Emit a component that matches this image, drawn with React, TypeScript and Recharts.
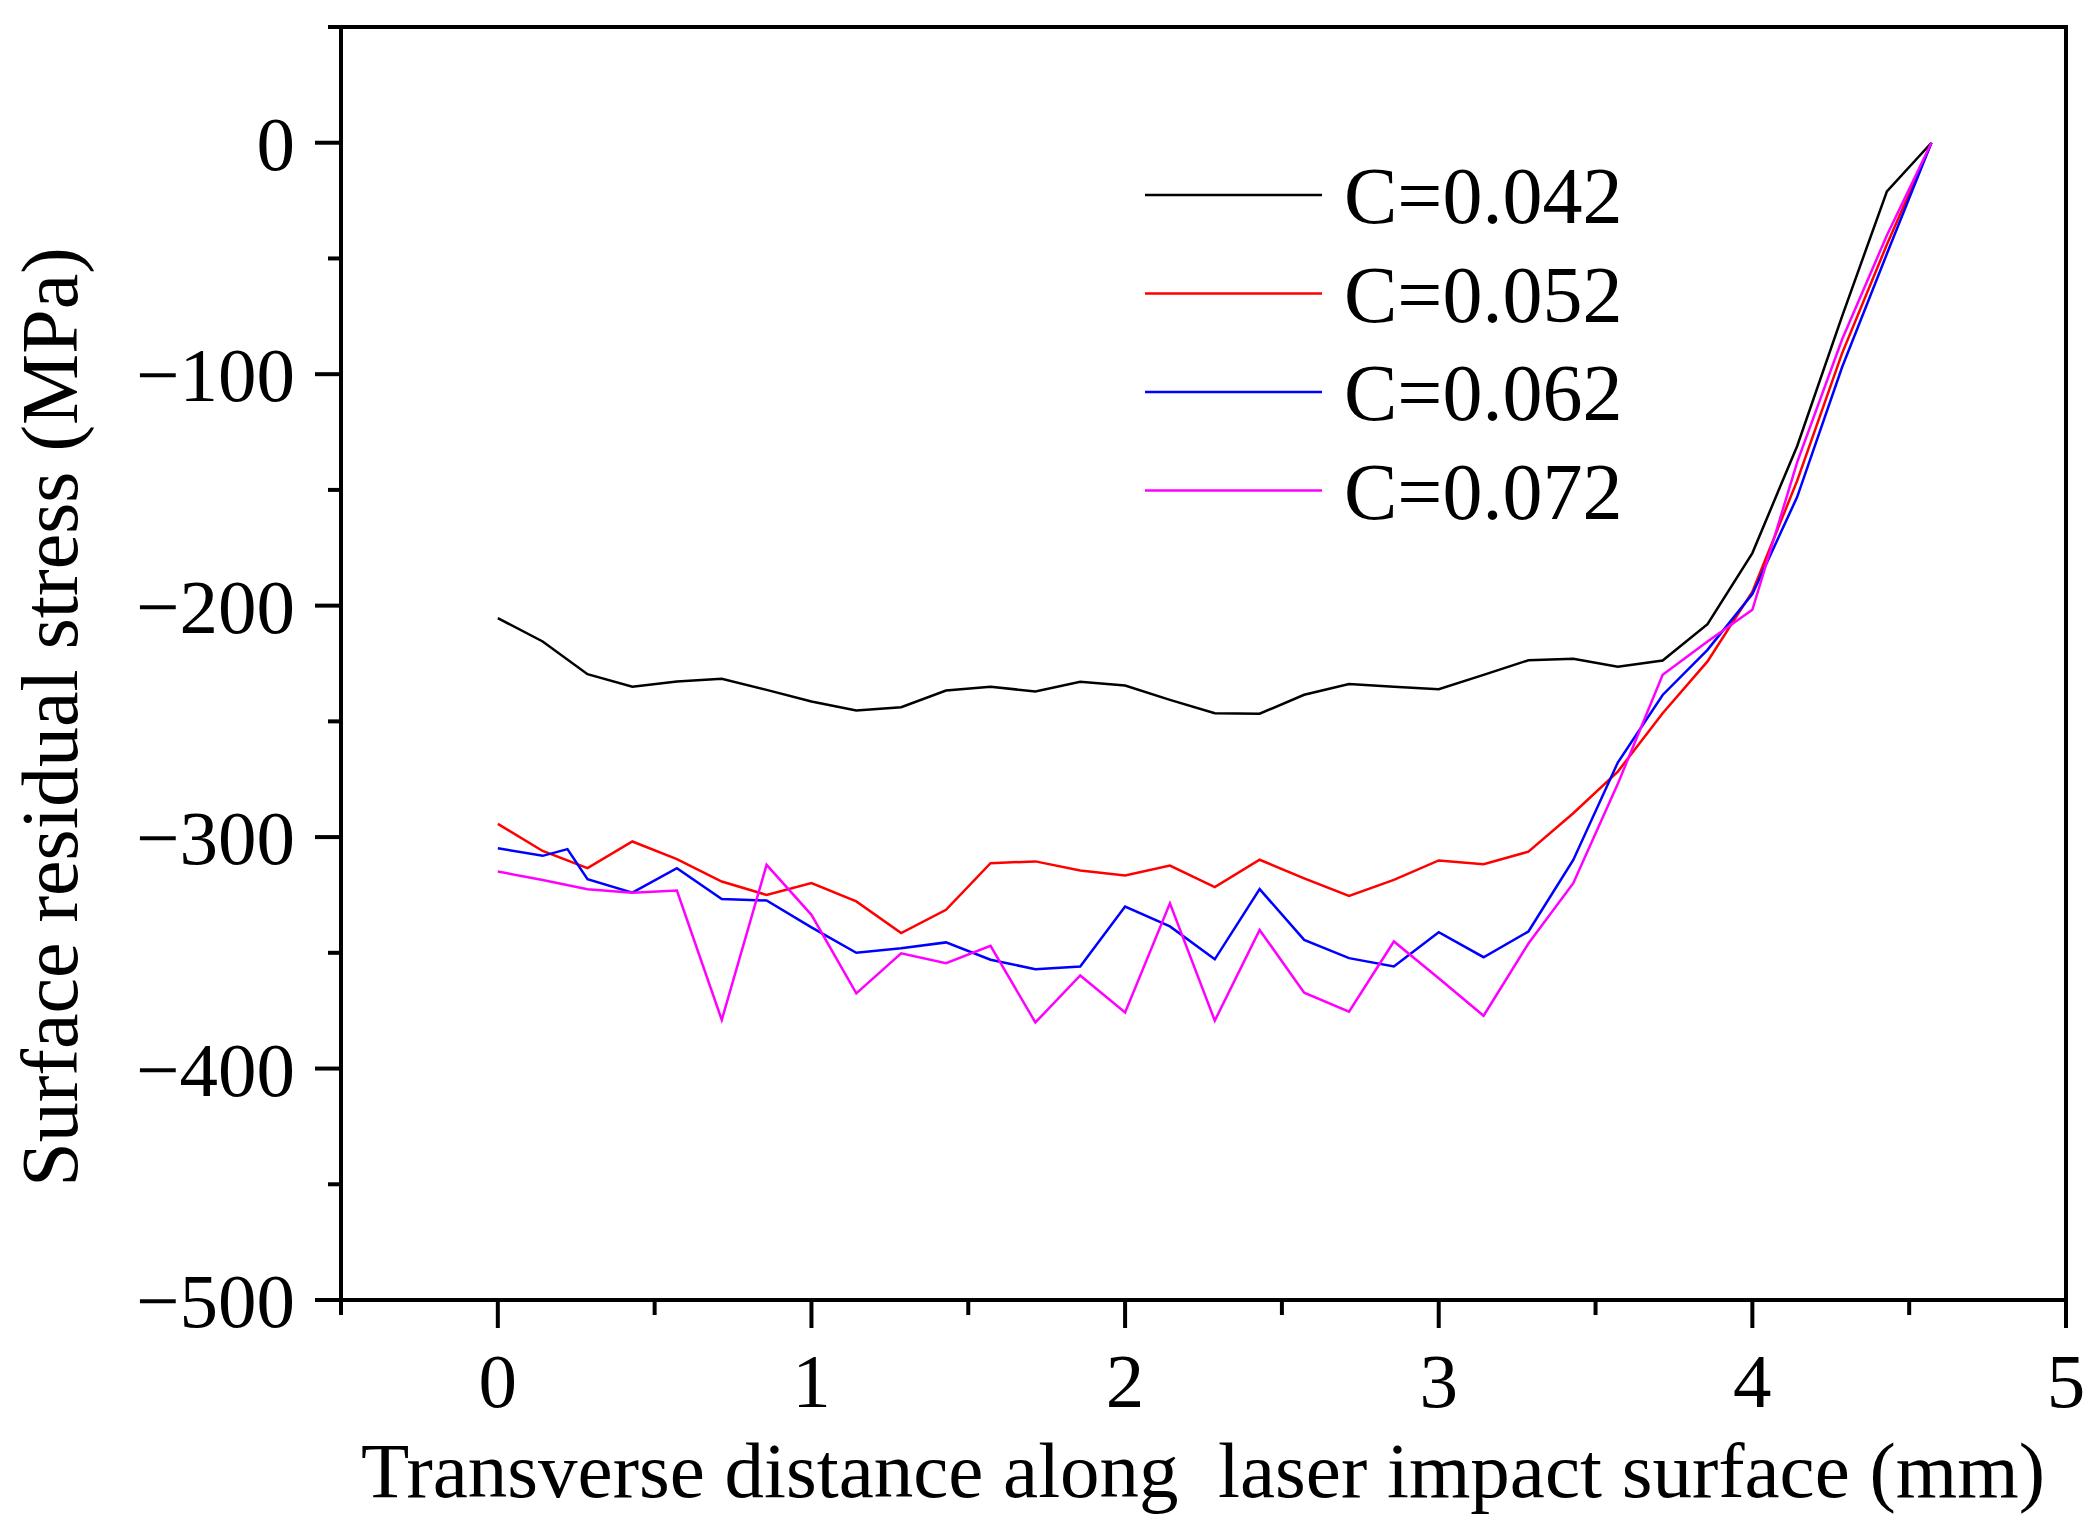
import React from "react";
import {
  LineChart,
  Line,
  XAxis,
  YAxis,
  Legend,
  ReferenceArea,
} from "recharts";

// x positions shared by the black, red and magenta curves (mm)
const xGrid = [
  0, 0.143, 0.286, 0.429, 0.571, 0.714, 0.857, 1.0, 1.143, 1.286, 1.429, 1.571,
  1.714, 1.857, 2.0, 2.143, 2.286, 2.429, 2.571, 2.714, 2.857, 3.0, 3.143,
  3.286, 3.429, 3.571, 3.714, 3.857, 4.0, 4.143, 4.286, 4.429, 4.571,
];

// the blue curve has one extra point near 0.22 mm
const blueX = [
  0, 0.143, 0.222, 0.286, 0.429, 0.571, 0.714, 0.857, 1.0, 1.143, 1.286, 1.429,
  1.571, 1.714, 1.857, 2.0, 2.143, 2.286, 2.429, 2.571, 2.714, 2.857, 3.0,
  3.143, 3.286, 3.429, 3.571, 3.714, 3.857, 4.0, 4.143, 4.286, 4.429, 4.571,
];

const stress042 = [
  -205.4, -215.5, -229.6, -235, -232.8, -231.6, -236.4, -241.4, -245.3, -243.9,
  -236.7, -235, -237.1, -232.9, -234.5, -240.7, -246.5, -246.7, -238.5, -233.9,
  -235, -236.1, -229.9, -223.6, -223, -226.4, -223.7, -208, -177.3, -131, -75,
  -21, 0,
];

const stress052 = [
  -294.3, -306, -313.4, -301.9, -309.5, -319.2, -325, -319.9, -327.8, -341.5,
  -331.4, -311.3, -310.5, -314.4, -316.6, -312.3, -321.6, -309.8, -317.8,
  -325.4, -318.5, -310.1, -311.7, -306.3, -289.7, -271.7, -246.5, -224.1, -194,
  -146, -91, -44, 0,
];

const stress062 = [
  -304.8, -308.1, -305.2, -318.2, -324, -313.4, -326.8, -327.4, -339, -350,
  -348, -345.5, -353, -357.1, -355.9, -330, -338.6, -352.8, -322.5, -344.4,
  -352.3, -355.9, -341.1, -351.9, -340.8, -309.9, -267.8, -238.6, -219.1, -195,
  -153, -97, -48, 0,
];

const stress072 = [
  -314.9, -318.5, -322.5, -324, -323.1, -379, -312, -333.6, -367.5, -350.2,
  -354.5, -347, -380.1, -359.8, -375.8, -328.6, -379.3, -340.1, -367.2, -375.4,
  -345.1, -361, -377.2, -346, -319.9, -277, -229.9, -215.5, -201.8, -138, -85,
  -40, 0,
];

const xTicks = [-0.5, 0, 0.5, 1, 1.5, 2, 2.5, 3, 3.5, 4, 4.5, 5];
const yTicks = [
  50, 0, -50, -100, -150, -200, -250, -300, -350, -400, -450, -500,
];

const toPoints = (xs: number[], ys: number[]) =>
  xs.map((x, i) => ({ x, y: ys[i] }));

const series = [
  { name: "C=0.042", color: "#000000", data: toPoints(xGrid, stress042) },
  { name: "C=0.052", color: "#ff0000", data: toPoints(xGrid, stress052) },
  { name: "C=0.062", color: "#0000ff", data: toPoints(blueX, stress062) },
  { name: "C=0.072", color: "#ff00ff", data: toPoints(xGrid, stress072) },
];

const FONT = "'Liberation Serif', 'Times New Roman', serif";

const fmt = (v: number) => (v < 0 ? `\u2212${Math.abs(v)}` : `${v}`);

const YTick = (props: any) => {
  const { x, y, payload } = props;
  const major = payload.value % 100 === 0;
  return (
    <g>
      <line
        x1={x}
        x2={x - (major ? 26 : 13)}
        y1={y}
        y2={y}
        stroke="#000"
        strokeWidth={4}
      />
      {major && (
        <text
          x={x - 46}
          y={y + 27}
          textAnchor="end"
          fontSize={77}
          fontFamily={FONT}
          fill="#000"
        >
          {fmt(payload.value)}
        </text>
      )}
    </g>
  );
};

const XTick = (props: any) => {
  const { x, y, payload } = props;
  const major = Number.isInteger(payload.value);
  return (
    <g>
      <line
        x1={x}
        x2={x}
        y1={y}
        y2={y + (major ? 28 : 15)}
        stroke="#000"
        strokeWidth={4}
      />
      {major && (
        <text
          x={x}
          y={y + 107}
          textAnchor="middle"
          fontSize={77}
          fontFamily={FONT}
          fill="#000"
        >
          {payload.value}
        </text>
      )}
    </g>
  );
};

const XTitle = () => (
  <text
    x={1203}
    y={1497}
    textAnchor="middle"
    fontSize={79}
    fontFamily={FONT}
    fill="#000"
    xmlSpace="preserve"
    style={{ whiteSpace: "pre" }}
  >
    {"Transverse distance along  laser impact surface (mm)"}
  </text>
);

const YTitle = () => (
  <text
    x={77}
    y={717}
    transform="rotate(-90 77 717)"
    textAnchor="middle"
    fontSize={80}
    fontFamily={FONT}
    fill="#000"
  >
    Surface residual stress (MPa)
  </text>
);

const LegendBox = () => (
  <svg width={520} height={420}>
    {series.map((s, i) => {
      const ly = 50 + i * 98.5;
      return (
        <g key={s.name}>
          <line x1={5} x2={182} y1={ly} y2={ly} stroke={s.color} strokeWidth={2.5} />
          <text x={204} y={ly + 28} fontSize={80} fontFamily={FONT} fill="#000">
            {s.name}
          </text>
        </g>
      );
    })}
  </svg>
);

export default function App() {
  return (
    <div style={{ position: "absolute", left: 0, top: 0, background: "#fff" }}>
      <LineChart
        width={2092}
        height={1525}
        margin={{ top: 27, right: 26, bottom: 25, left: 41 }}
        style={{ fontFamily: FONT }}
      >
        <XAxis
          type="number"
          dataKey="x"
          domain={[-0.5, 5]}
          ticks={xTicks}
          interval={0}
          allowDataOverflow
          height={200}
          tickSize={0}
          tickMargin={0}
          tickLine={false}
          axisLine={{ stroke: "#000", strokeWidth: 4 }}
          tick={<XTick />}
          label={<XTitle />}
        />
        <YAxis
          type="number"
          domain={[-500, 50]}
          ticks={yTicks}
          interval={0}
          allowDataOverflow
          width={300}
          tickSize={0}
          tickMargin={0}
          tickLine={false}
          axisLine={{ stroke: "#000", strokeWidth: 4 }}
          tick={<YTick />}
          label={<YTitle />}
        />
        <ReferenceArea
          x1={-0.5}
          x2={5}
          y1={-500}
          y2={50}
          fill="none"
          stroke="#000"
          strokeWidth={4}
          ifOverflow="visible"
        />
        {series.map((s) => (
          <Line
            key={s.name}
            name={s.name}
            data={s.data}
            dataKey="y"
            type="linear"
            stroke={s.color}
            strokeWidth={2.5}
            dot={false}
            activeDot={false}
            isAnimationActive={false}
          />
        ))}
        <Legend
          layout="vertical"
          align="center"
          verticalAlign="middle"
          content={<LegendBox />}
          wrapperStyle={{ left: 1140, top: 145, width: 520, height: 420 }}
        />
      </LineChart>
    </div>
  );
}
